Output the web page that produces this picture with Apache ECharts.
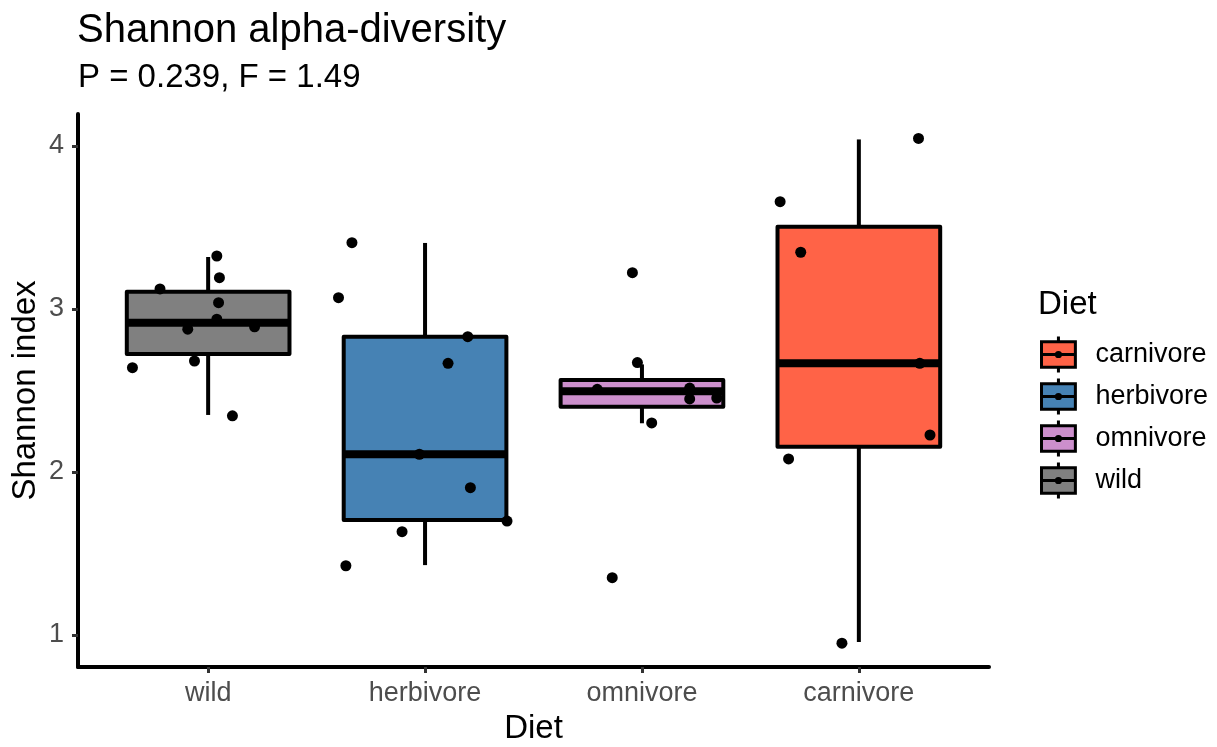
<!DOCTYPE html>
<html>
<head>
<meta charset="utf-8">
<script src="https://cdn.jsdelivr.net/npm/echarts@6/dist/echarts.min.js"></script>
<style>
html,body{margin:0;padding:0;background:#fff;}
#chart{width:1217px;height:747px;}
</style>
</head>
<body>
<div id="chart"></div>
<script>
// ---- data ----
const categories = ['wild', 'herbivore', 'omnivore', 'carnivore'];
const legendOrder = ['carnivore', 'herbivore', 'omnivore', 'wild'];
const yTicks = [1, 2, 3, 4];
// box stats: [lower whisker, Q1, median, Q3, upper whisker]
const wildBox = [2.350, 2.724, 2.916, 3.106, 3.319];
const herbivoreBox = [1.429, 1.706, 2.109, 2.830, 3.405];
const omnivoreBox = [2.299, 2.401, 2.495, 2.564, 2.660];
const carnivoreBox = [0.957, 2.155, 2.667, 3.505, 4.040];
// jittered points: values and horizontal jitter (category units)
const wildValues = [3.325, 3.192, 3.123, 3.039, 2.937, 2.876, 2.891, 2.681, 2.640, 2.345];
const wildJitter = [0.040, 0.052, -0.222, 0.048, 0.040, -0.094, 0.214, -0.063, -0.349, 0.112];
const herbivoreValues = [3.407, 3.069, 2.830, 2.667, 2.109, 1.904, 1.699, 1.634, 1.425];
const herbivoreJitter = [-0.337, -0.399, 0.197, 0.106, -0.026, 0.209, 0.378, -0.106, -0.365];
const omnivoreValues = [3.223, 2.671, 2.507, 2.515, 2.448, 2.454, 2.301, 1.352];
const omnivoreJitter = [-0.044, -0.021, -0.206, 0.220, 0.220, 0.345, 0.045, -0.137];
const carnivoreValues = [4.046, 3.658, 3.348, 2.667, 2.227, 2.080, 0.950];
const carnivoreJitter = [0.275, -0.363, -0.268, 0.281, 0.328, -0.324, -0.078];

// ---- styles ----
const FONT = 'Liberation Sans';
const fills = { wild: '#808080', herbivore: '#4682B4', omnivore: '#CC8FCC', carnivore: '#FF6347' };

const boxes = { wild: wildBox, herbivore: herbivoreBox, omnivore: omnivoreBox, carnivore: carnivoreBox };
const pointSets = [
  [wildValues, wildJitter],
  [herbivoreValues, herbivoreJitter],
  [omnivoreValues, omnivoreJitter],
  [carnivoreValues, carnivoreJitter]
];

const points = [];
pointSets.forEach(function (ps, ci) {
  ps[0].forEach(function (v, k) { points.push([ci + ps[1][k], v]); });
});

const BOX_HALF = 0.375;
function renderBox(params, api) {
  const x = api.value(0);
  const lo = api.value(1), q1 = api.value(2), med = api.value(3), q3 = api.value(4), hi = api.value(5);
  const tl = api.coord([x - BOX_HALF, q3]);
  const br = api.coord([x + BOX_HALF, q1]);
  const cTop = api.coord([x, hi]);
  const cQ3 = api.coord([x, q3]);
  const cQ1 = api.coord([x, q1]);
  const cBot = api.coord([x, lo]);
  const mL = api.coord([x - BOX_HALF, med]);
  const mR = api.coord([x + BOX_HALF, med]);
  const lineStyle = { stroke: '#000', lineWidth: 4 };
  return {
    type: 'group',
    children: [
      { type: 'line', shape: { x1: cTop[0], y1: cTop[1], x2: cQ3[0], y2: cQ3[1] }, style: lineStyle },
      { type: 'line', shape: { x1: cQ1[0], y1: cQ1[1], x2: cBot[0], y2: cBot[1] }, style: lineStyle },
      { type: 'rect', shape: { x: tl[0], y: tl[1], width: br[0] - tl[0], height: br[1] - tl[1] },
        style: { fill: api.visual('color'), stroke: '#000', lineWidth: 4, lineJoin: 'round' } },
      { type: 'line', shape: { x1: mL[0], y1: mL[1], x2: mR[0], y2: mR[1] }, style: { stroke: '#000', lineWidth: 8 } }
    ]
  };
}

const legendIcon = 'path://M17,0 L17,5 M1,5 L33,5 L33,29 L1,29 Z M1,17 L33,17 M17,29 L17,34 M15,17 A2,2 0 1,0 19,17 A2,2 0 1,0 15,17 Z';

const boxSeries = categories.map(function (c, i) {
  const b = boxes[c];
  return {
    name: c,
    type: 'custom',
    renderItem: renderBox,
    itemStyle: { color: fills[c], borderColor: '#000', borderWidth: 3 },
    encode: { x: 0, y: [1, 2, 3, 4, 5] },
    data: [[i, b[0], b[1], b[2], b[3], b[4]]],
    z: 2,
    silent: true
  };
});

const chart = echarts.init(document.getElementById('chart'), null, { renderer: 'canvas' });
chart.setOption({
  animation: false,
  backgroundColor: '#fff',
  textStyle: { fontFamily: FONT },
  title: [
    { text: 'Shannon alpha-diversity', left: 72, top: 6,
      textStyle: { fontFamily: FONT, fontSize: 40, fontWeight: 'normal', color: '#000' } },
    { text: 'P = 0.239, F = 1.49', left: 73, top: 56,
      textStyle: { fontFamily: FONT, fontSize: 33, fontWeight: 'normal', color: '#000' } },
    { text: 'Diet', left: 1033, top: 283,
      textStyle: { fontFamily: FONT, fontSize: 33, fontWeight: 'normal', color: '#000' } }
  ],
  legend: {
    data: legendOrder,
    orient: 'vertical',
    left: 1035,
    top: 330,
    itemWidth: 36,
    itemHeight: 36,
    itemGap: 3,
    icon: legendIcon,
    itemStyle: { borderColor: '#000', borderWidth: 3 },
    textStyle: { fontFamily: FONT, fontSize: 27, color: '#000', padding: [0, 0, 0, 14] },
    selectedMode: false
  },
  grid: { left: 78, right: 228, top: 114, bottom: 80, outerBoundsMode: 'none', containLabel: false },
  xAxis: {
    type: 'value',
    min: -0.6,
    max: 3.6,
    name: 'Diet',
    nameLocation: 'middle',
    nameGap: 45,
    nameMoveOverlap: false,
    nameTextStyle: { fontFamily: FONT, fontSize: 33, color: '#000' },
    splitLine: { show: false },
    axisLine: { show: true, onZero: false, lineStyle: { color: '#000', width: 4 } },
    axisTick: { show: true, length: 6, customValues: [0, 1, 2, 3], lineStyle: { color: '#333', width: 3 } },
    axisLabel: {
      customValues: [0, 1, 2, 3],
      formatter: function (v) { return categories[Math.round(v)]; },
      fontFamily: FONT, fontSize: 27, color: '#4D4D4D', margin: 13
    }
  },
  yAxis: {
    type: 'value',
    min: 0.804,
    max: 4.196,
    name: 'Shannon index',
    nameLocation: 'middle',
    nameGap: 36,
    nameMoveOverlap: false,
    nameTextStyle: { fontFamily: FONT, fontSize: 33, color: '#000' },
    splitLine: { show: false },
    axisLine: { show: true, onZero: false, lineStyle: { color: '#000', width: 4 } },
    axisTick: { show: true, length: 6, customValues: yTicks, lineStyle: { color: '#333', width: 3 } },
    axisLabel: { customValues: yTicks, fontFamily: FONT, fontSize: 27, color: '#4D4D4D', margin: 14 }
  },
  series: boxSeries.concat([
    {
      name: 'points',
      type: 'scatter',
      data: points,
      symbol: 'circle',
      symbolSize: 11,
      itemStyle: { color: '#000', opacity: 1 },
      z: 5,
      silent: true
    }
  ])
});
</script>
</body>
</html>
